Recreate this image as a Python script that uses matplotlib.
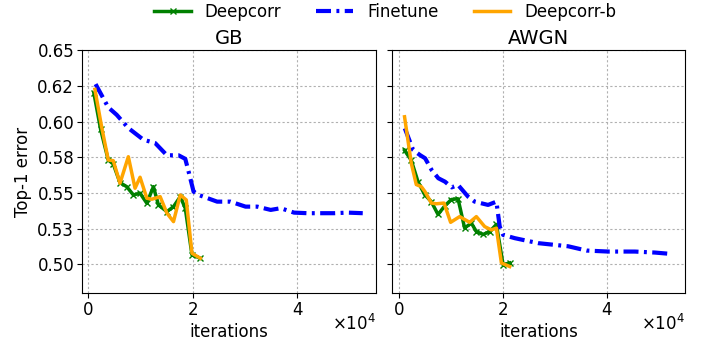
import matplotlib
matplotlib.use('Agg')
import matplotlib.pyplot as plt

# GB panel
gb_deep_x = [1100, 2380, 3840, 4800, 6080, 7370, 8640, 9920, 11210, 12470, 13430, 15050, 16310, 17600, 18560, 19840, 21440]
gb_deep_y = [0.620, 0.5947, 0.5732, 0.5704, 0.5573, 0.5545, 0.5487, 0.5499, 0.5429, 0.5545, 0.5417, 0.5370, 0.5405, 0.5475, 0.5394, 0.5067, 0.5043]

gb_fine_x = [1420, 3840, 5450, 7680, 10560, 12800, 15050, 17270, 18560, 19200, 20150, 21110, 24650, 27200,
             30080, 32320, 34880, 36800, 39350, 41920, 47030, 49600, 52480]
gb_fine_y = [0.6264, 0.6101, 0.6049, 0.5956, 0.5874, 0.5851, 0.5765, 0.5765, 0.5740, 0.5650, 0.5510, 0.5487, 0.5440, 0.5440,
             0.5405, 0.5405, 0.5382, 0.5394, 0.5363, 0.5359, 0.5359, 0.5363, 0.5359]

gb_deepb_x = [1290, 2570, 3840, 4800, 6080, 7680, 8960, 9920, 11210, 12170, 13760, 15050, 16310, 17600, 18750, 19840, 21440]
gb_deepb_y = [0.6227, 0.5965, 0.5732, 0.5727, 0.5569, 0.5755, 0.5534, 0.5611, 0.5464, 0.5457, 0.5475, 0.5359, 0.5300, 0.5487, 0.5452, 0.5078, 0.5043]

# AWGN panel
aw_deep_x = [1150, 2440, 3730, 5000, 6290, 7580, 8870, 10140, 11420, 12690, 13980, 14940, 16230, 17500, 18790, 20080, 21350]
aw_deep_y = [0.580, 0.573, 0.558, 0.549, 0.544, 0.535, 0.541, 0.5455, 0.546, 0.5255, 0.529, 0.523, 0.521, 0.523, 0.528, 0.4997, 0.501]

aw_fine_x = [1200, 2800, 4100, 5100, 6350, 7640, 8920, 10200, 11420, 13350, 14620, 17190, 18790, 19430, 20080,
             22310, 26810, 32580, 36100, 40270, 45380, 49230, 52120]
aw_fine_y = [0.5954, 0.5802, 0.5767, 0.5744, 0.5662, 0.5604, 0.558, 0.554, 0.5557, 0.5475, 0.544, 0.5417, 0.544, 0.5265, 0.5207,
             0.5184, 0.5149, 0.5127, 0.5097, 0.509, 0.509, 0.5083, 0.5074]

aw_deepb_x = [1150, 2440, 3400, 4370, 5080, 6300, 7250, 8730, 10000, 11730, 13650, 14940, 16540, 17820, 18790, 19750, 21350]
aw_deepb_y = [0.6035, 0.571, 0.556, 0.5545, 0.551, 0.543, 0.5425, 0.543, 0.5295, 0.5335, 0.5295, 0.5335, 0.5265, 0.5242, 0.5254, 0.501, 0.4985]

titles = ['GB', 'AWGN']
yticks = [0.500, 0.525, 0.550, 0.575, 0.600, 0.625, 0.650]
ytick_labels = ['0.50', '0.53', '0.55', '0.58', '0.60', '0.62', '0.65']

panels = [
    (gb_deep_x, gb_deep_y, gb_fine_x, gb_fine_y, gb_deepb_x, gb_deepb_y),
    (aw_deep_x, aw_deep_y, aw_fine_x, aw_fine_y, aw_deepb_x, aw_deepb_y),
]

fig = plt.figure(figsize=(7.12, 3.41), dpi=100)
ax1 = fig.add_axes([0.115, 0.141, 0.413, 0.711])
ax2 = fig.add_axes([0.551, 0.141, 0.411, 0.711], sharey=ax1)

for ax, title, (dx, dy, fx, fy, bx, by) in zip([ax1, ax2], titles, panels):
    ax.plot(dx, dy, color='green', marker='x', markersize=5, linewidth=2.5, label='Deepcorr')
    ax.plot(fx, fy, color='blue', linestyle=(0, (3.6, 1.3, 0.7, 1.3)), linewidth=3, label='Finetune')
    ax.plot(bx, by, color='orange', linewidth=2.5, label='Deepcorr-b')
    ax.set_title(title, fontsize=14, pad=5)
    ax.set_xlim(-1200, 55000)
    ax.set_xticks([0, 20000, 40000])
    ax.ticklabel_format(style='sci', axis='x', scilimits=(0, 0), useMathText=True)
    ax.xaxis.get_offset_text().set_fontsize(12)
    # pull the x10^4 text up so it sits beside the axis label
    ax.xaxis.OFFSETTEXTPAD = -3
    ax.set_xlabel('iterations', fontsize=12, labelpad=3)
    ax.tick_params(labelsize=12, pad=2)
    ax.grid(True, linestyle=(0, (2, 2)), color='#b0b0b0', linewidth=0.8)

ax1.set_ylim(0.48, 0.65)
ax1.set_yticks(yticks)
ax1.set_yticklabels(ytick_labels)
ax1.set_ylabel('Top-1 error', fontsize=12)
plt.setp(ax2.get_yticklabels(), visible=False)

handles, labels = ax1.get_legend_handles_labels()
fig.legend(handles, labels, loc='upper center', ncol=3, frameon=False, fontsize=12,
           bbox_to_anchor=(0.541, 1.035), handlelength=2.2, handletextpad=0.84, columnspacing=2.1)

fig.savefig('out.png', dpi=100)
